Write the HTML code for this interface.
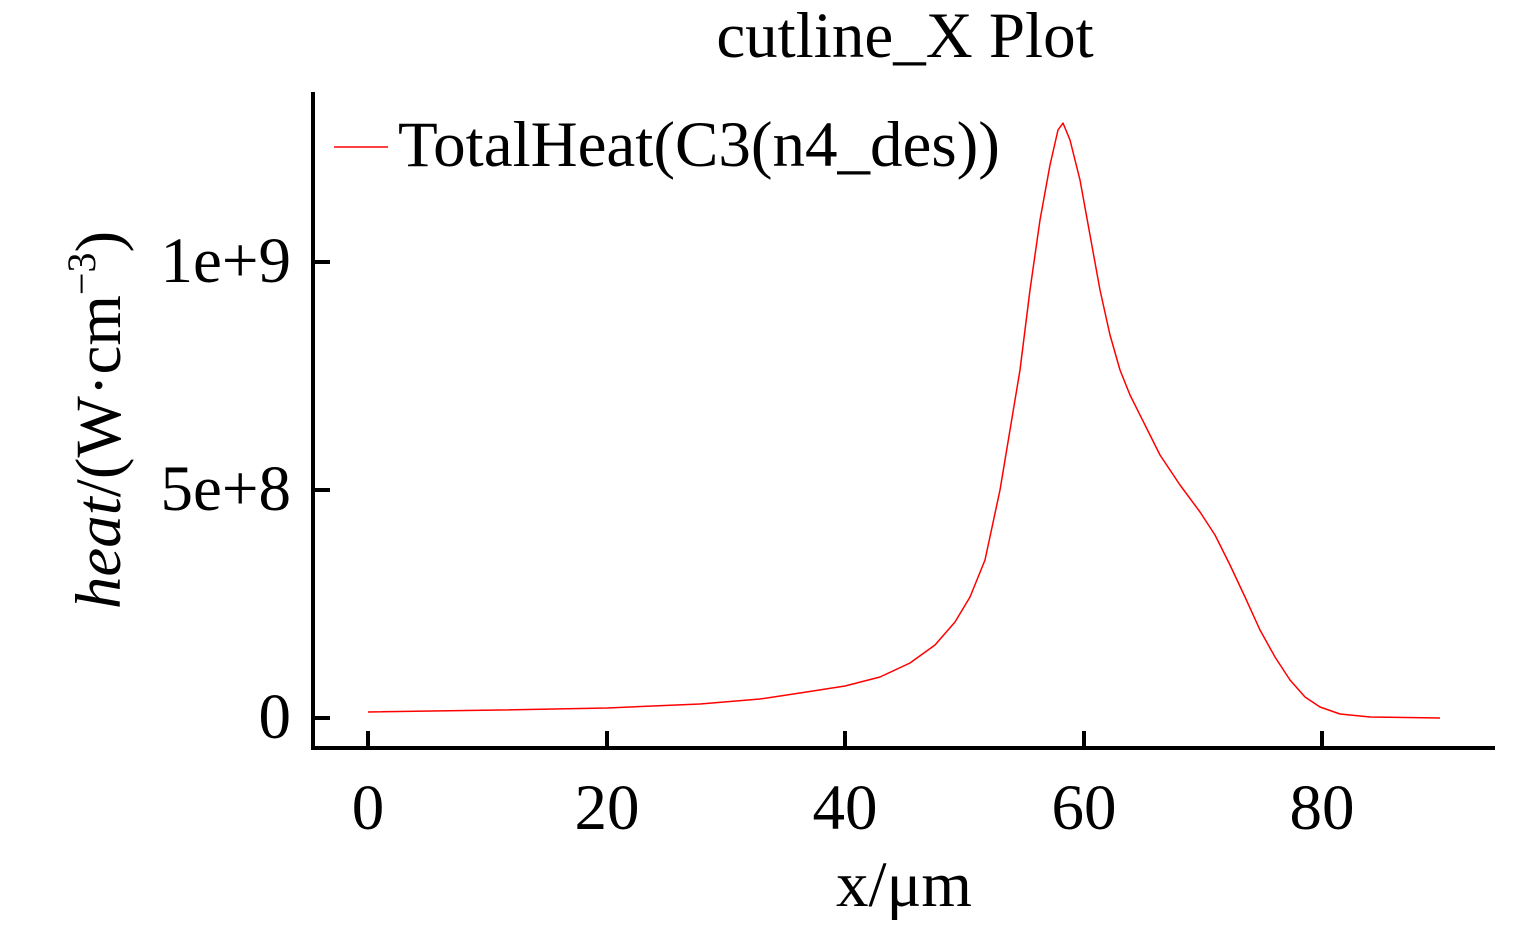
<!DOCTYPE html>
<html><head><style>body{margin:0;background:#fff}svg text{font-family:"Liberation Serif",serif;fill:#000}</style></head><body>
<svg width="1535" height="929" viewBox="0 0 1535 929" xmlns="http://www.w3.org/2000/svg">
<text x="905" y="57" font-size="65" text-anchor="middle">cutline_X Plot</text>
<line x1="313" y1="92" x2="313" y2="750" stroke="#000" stroke-width="4"/>
<line x1="311" y1="748" x2="1495" y2="748" stroke="#000" stroke-width="4"/>
<g stroke="#000" stroke-width="4">
<line x1="368" y1="731" x2="368" y2="748"/><line x1="607" y1="731" x2="607" y2="748"/><line x1="845" y1="731" x2="845" y2="748"/><line x1="1084" y1="731" x2="1084" y2="748"/><line x1="1322" y1="731" x2="1322" y2="748"/>
<line x1="313" y1="718" x2="330" y2="718"/><line x1="313" y1="490" x2="330" y2="490"/><line x1="313" y1="262" x2="330" y2="262"/>
</g>
<g font-size="65" text-anchor="middle">
<text x="368" y="829">0</text><text x="607" y="829">20</text><text x="845" y="829">40</text><text x="1084" y="829">60</text><text x="1322" y="829">80</text>
</g>
<g font-size="65" text-anchor="end">
<text x="291" y="738">0</text><text x="291" y="510">5e+8</text><text x="291" y="282">1e+9</text>
</g>
<text x="904" y="906" font-size="65" text-anchor="middle">x/μm</text>
<text transform="translate(120,420) rotate(-90)" font-size="65" text-anchor="middle"><tspan font-style="italic">heat</tspan>/(W·cm<tspan font-size="40" dy="-25">−3</tspan><tspan dy="25">)</tspan></text>
<line x1="334" y1="147" x2="388" y2="147" stroke="#f00" stroke-width="1.5"/>
<text x="398" y="166" font-size="65">TotalHeat(C3(n4_des))</text>
<polyline fill="none" stroke="#f00" stroke-width="1.5" stroke-linejoin="round" points="368,712 500,710 607,708 700,704 760,699 800,693 845,686 880,677 910,663 935,645 955,622 970,597 985,560 1000,490 1010,430 1020,370 1030,290 1040,220 1050,165 1058,130 1063,123 1070,140 1080,180 1090,235 1100,290 1110,335 1120,370 1130,395 1145,425 1160,455 1180,485 1200,512 1215,535 1230,565 1245,597 1260,630 1275,657 1290,680 1305,697 1320,707 1340,714 1370,717 1440,718"/>
</svg>
</body></html>
